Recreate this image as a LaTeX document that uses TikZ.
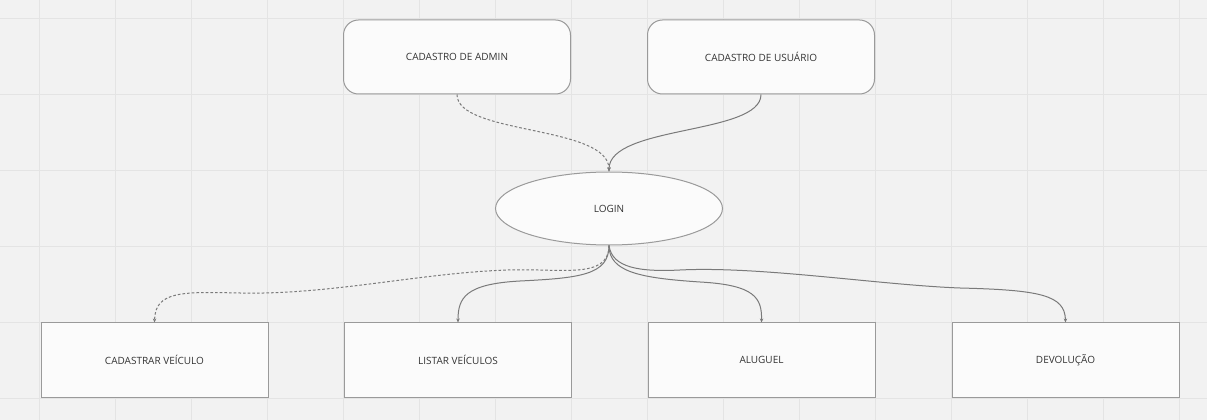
\documentclass[tikz,border=0pt]{standalone}
\usepackage{fontspec}
\setmainfont{Open Sans}
\usetikzlibrary{arrows.meta,shapes.geometric}
\definecolor{bg}{HTML}{F2F2F2}
\definecolor{gridc}{HTML}{E4E4E4}
\definecolor{boxfill}{HTML}{FBFBFB}
\definecolor{boxline}{HTML}{9A9A9A}
\definecolor{linec}{HTML}{7A7A7A}
\definecolor{txt}{HTML}{333333}
\begin{document}
\begin{tikzpicture}[x=0.75pt,y=-0.75pt,
  base/.style={draw=boxline, fill=boxfill, inner sep=0pt, line width=0.75pt,
    font=\fontsize{7.5pt}{9pt}\selectfont, text=txt},
  roundbox/.style={base, rectangle, rounded corners=11.25pt, minimum width=170.25pt, minimum height=55.5pt},
  rectbox/.style={base, rectangle, minimum width=170.25pt, minimum height=55.5pt},
  ellbox/.style={base, ellipse, minimum width=170.25pt, minimum height=54.75pt},
  gridline/.style={draw=gridc, line width=0.75pt},
  conn/.style={draw=linec, line width=0.75pt, -{Stealth[length=3pt,width=2.6pt]}},
  dconn/.style={conn, dash pattern=on 2pt off 1.5pt}]
\fill[bg] (0,0) rectangle (1207,420);
\useasboundingbox (0,0) rectangle (1207,420);
\foreach \i in {0,...,15} \draw[gridline] ({39.5+76*\i},0) -- ({39.5+76*\i},420);
\foreach \j in {0,...,5} \draw[gridline] (0,{18.5+76*\j}) -- (1207,{18.5+76*\j});

\node[roundbox] (admin) at (457,57) {CADASTRO DE ADMIN};
\node[roundbox] (usuario) at (761,57) {CADASTRO DE USUÁRIO};
\node[ellbox] (login) at (609,208.5) {LOGIN};
\node[rectbox] (cadastrar) at (154.5,360) {CADASTRAR VEÍCULO};
\node[rectbox] (listar) at (458,360) {LISTAR VEÍCULOS};
\node[rectbox] (aluguel) at (761.5,360) {ALUGUEL};
\node[rectbox] (devolucao) at (1065.5,360) {DEVOLUÇÃO};

\draw[dconn] (admin.south) .. controls (457,135) and (609,125) .. (login.north);
\draw[conn] (usuario.south) .. controls (761,135) and (609,125) .. (login.north);

\draw[dconn] (login.south) .. controls (609,280) and (560,268) .. (507,270)
  .. controls (420,273) and (330,295) .. (240,293)
  .. controls (185,292) and (155,290) .. (cadastrar.north);
\draw[conn] (login.south) .. controls (609,275) and (580,278) .. (520,281)
  .. controls (465,284) and (458,298) .. (listar.north);
\draw[conn] (login.south) .. controls (609,272) and (640,278) .. (700,282)
  .. controls (755,285) and (762,298) .. (aluguel.north);
\draw[conn] (login.south) .. controls (612,268) and (640,272) .. (680,270)
  .. controls (760,266) and (880,285) .. (960,288)
  .. controls (1040,290) and (1065,295) .. (devolucao.north);
\end{tikzpicture}
\end{document}
